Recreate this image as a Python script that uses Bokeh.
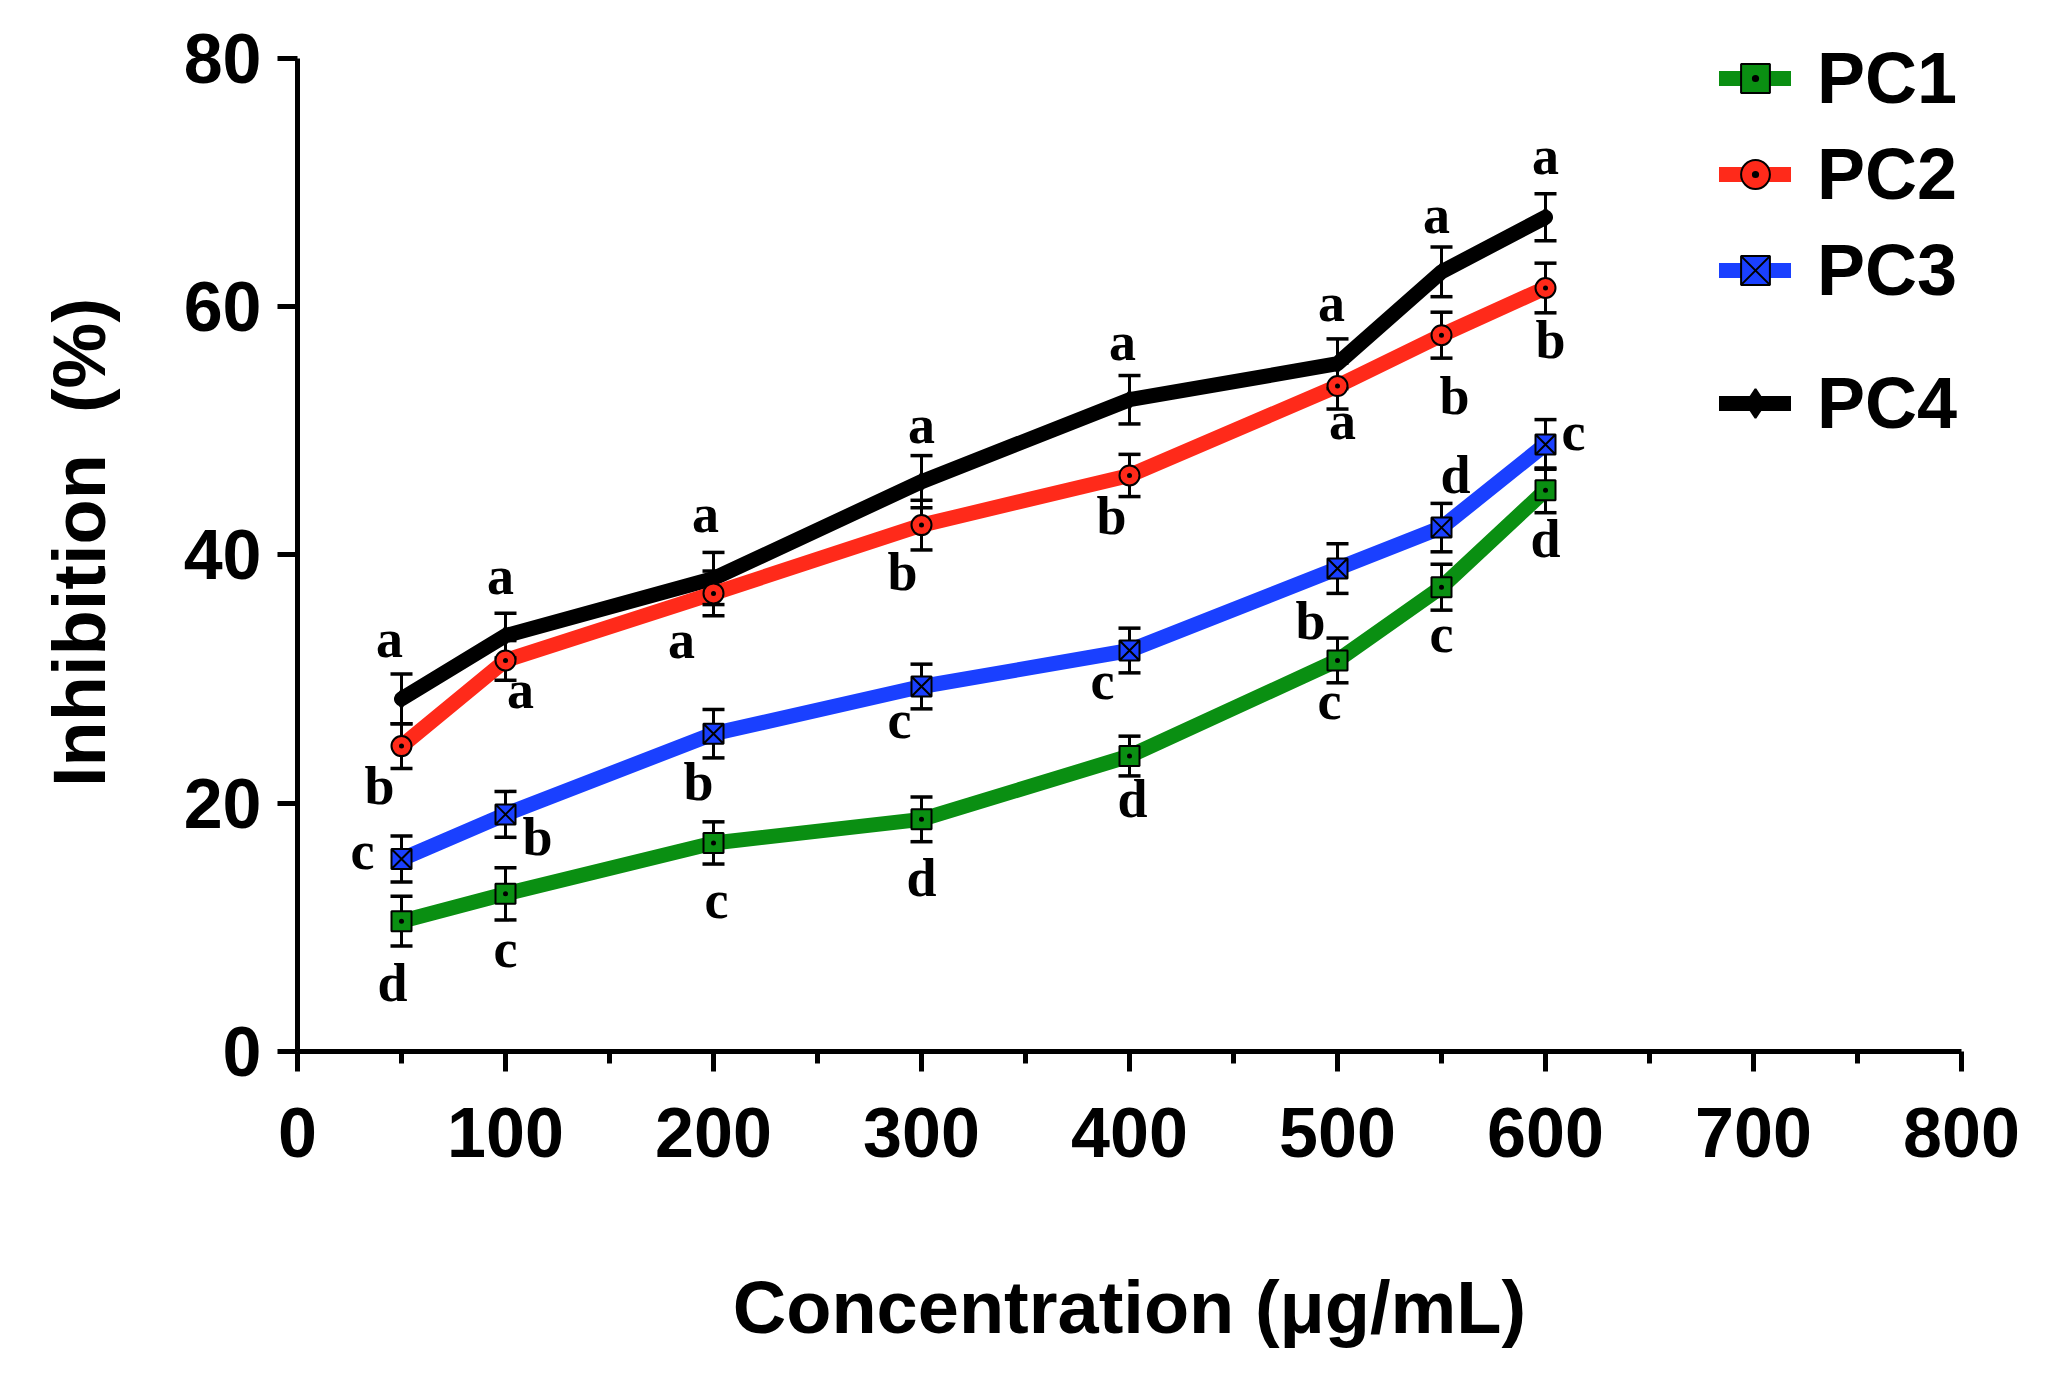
from bokeh.plotting import figure
from bokeh.models import ColumnDataSource, FixedTicker, Legend, LegendItem
from bokeh.core.properties import value
from bokeh.embed import file_html
from bokeh.resources import INLINE

# ---- data ----
conc = [50, 100, 200, 300, 400, 500, 550, 600]

pc1 = [10.5, 12.7, 16.8, 18.7, 23.8, 31.5, 37.4, 45.2]
pc1_err = [2.0, 2.1, 1.7, 1.8, 1.6, 1.8, 1.85, 1.8]
pc1_letters = ["d", "c", "c", "d", "d", "c", "c", "d"]

pc2 = [24.6, 31.5, 36.9, 42.4, 46.4, 53.6, 57.7, 61.5]
pc2_err = [1.8, 1.6, 1.8, 2.0, 1.7, 1.85, 1.85, 2.0]
pc2_letters = ["b", "a", "a", "b", "b", "a", "b", "b"]

pc3 = [15.5, 19.1, 25.6, 29.4, 32.3, 38.9, 42.2, 48.9]
pc3_err = [1.85, 1.85, 1.95, 1.8, 1.8, 2.0, 1.95, 2.0]
pc3_letters = ["c", "b", "b", "c", "c", "b", "d", "c"]

pc4 = [28.4, 33.5, 38.1, 45.9, 52.5, 55.4, 62.8, 67.2]
pc4_err = [2.0, 1.8, 2.1, 2.1, 1.95, 2.0, 2.0, 1.9]
pc4_letters = ["a", "a", "a", "a", "a", "a", "a", "a"]

x_ticks = [0, 100, 200, 300, 400, 500, 600, 700, 800]
x_minor = [50, 150, 250, 350, 450, 550, 650, 750]
y_ticks = [0, 20, 40, 60, 80]

# ---- styles (letter offsets in screen px) ----
styles = {
    "PC1": dict(color="#0a8f12", marker="square_dot", msize=20,
                dx=[-9, 0, 3, 0, 3, -8, 0, 0], dy=[62, 55, 57, 59, 43, 41, 47, 49]),
    "PC2": dict(color="#ff2a1a", marker="circle_dot", msize=20,
                dx=[-22, 15, -32, -19, -18, 5, 13, 5], dy=[40, 30, 47, 47, 41, 35, 61, 52]),
    "PC3": dict(color="#1a40ff", marker="square_x", msize=20,
                dx=[-39, 32, -15, -22, -27, -27, 14, 28], dy=[-8, 23, 48, 33, 30, 52, -53, -12]),
    "PC4": dict(color="#000000", marker="diamond", msize=18,
                dx=[-12, -5, -8, 0, -7, -6, -5, 0], dy=[-60, -60, -65, -57, -58, -61, -57, -61]),
}
series = {
    "PC1": (pc1, pc1_err, pc1_letters),
    "PC2": (pc2, pc2_err, pc2_letters),
    "PC3": (pc3, pc3_err, pc3_letters),
    "PC4": (pc4, pc4_err, pc4_letters),
}

p = figure(width=2035, height=1365, x_range=(0, 800), y_range=(0, 82),
           output_backend="svg", toolbar_location=None,
           min_border_left=297, min_border_right=74, min_border_top=33, min_border_bottom=314)
p.xgrid.visible = False
p.ygrid.visible = False
p.outline_line_color = None
p.background_fill_color = "white"

sources = {}
for name, (vals, errs, letters) in series.items():
    st = styles[name]
    sources[name] = ColumnDataSource(dict(
        x=conc, y=vals,
        upper=[v + e for v, e in zip(vals, errs)],
        lower=[v - e for v, e in zip(vals, errs)],
        letter=letters, dx=st["dx"], dy=st["dy"]))

order = ["PC4", "PC1", "PC3", "PC2"]

line_r = {}
for name in order:
    st = styles[name]
    line_r[name] = p.line("x", "y", source=sources[name], line_color=st["color"],
                          line_width=15, line_join="round", line_cap="round")

for name in order:
    src = sources[name]
    p.segment(x0="x", y0="lower", x1="x", y1="upper", source=src, line_color="black", line_width=3)
    p.scatter("x", "upper", source=src, marker="dash", size=22, line_color="black", line_width=3.5)
    p.scatter("x", "lower", source=src, marker="dash", size=22, line_color="black", line_width=3.5)

mark_r = {}
for name in order:
    st = styles[name]
    mark_r[name] = p.scatter("x", "y", source=sources[name], marker=st["marker"], size=st["msize"],
                             fill_color=st["color"], line_color="black", line_width=2)

for name in order:
    p.text("x", "y", text="letter", source=sources[name], x_offset="dx", y_offset="dy",
           text_font=value("Liberation Serif"), text_font_style="bold", text_font_size="54px",
           text_align="center", text_baseline="middle", text_color="black")

# axes
for ax in (p.xaxis[0], p.yaxis[0]):
    ax.axis_line_width = 5
    ax.axis_line_color = "black"
    ax.major_tick_line_width = 5
    ax.major_tick_out = 20
    ax.major_tick_in = 0
    ax.minor_tick_line_width = 5
    ax.minor_tick_out = 12
    ax.minor_tick_in = 0
    ax.major_label_text_font = "Liberation Sans"
    ax.major_label_text_font_style = "bold"
    ax.major_label_text_font_size = "70px"
    ax.major_label_text_color = "black"
    ax.axis_label_text_font = "Liberation Sans"
    ax.axis_label_text_font_style = "bold"
    ax.axis_label_text_font_size = "74px"
    ax.axis_label_text_color = "black"

p.yaxis.bounds = (0, 80)
p.xaxis.ticker = FixedTicker(ticks=x_ticks, minor_ticks=x_minor)
p.yaxis.ticker = FixedTicker(ticks=y_ticks, minor_ticks=[])
p.xaxis.major_label_standoff = 36
p.yaxis.major_label_standoff = 16
p.xaxis.axis_label = "Concentration (\u03bcg/mL)"
p.yaxis.axis_label = "Inhibition\u00a0\u00a0(%)"
p.xaxis.axis_label_standoff = 106
p.yaxis.axis_label_standoff = 60

def make_legend(names, loc):
    items = [LegendItem(label=n, renderers=[line_r[n], mark_r[n]]) for n in names]
    lg = Legend(items=items, location=loc, orientation="vertical",
                glyph_width=72, glyph_height=84, label_height=84, label_standoff=26,
                spacing=12, padding=0, margin=0,
                border_line_color=None, background_fill_alpha=0,
                label_text_font="Liberation Sans", label_text_font_style="bold",
                label_text_font_size="72px", label_text_color="black")
    return lg

p.add_layout(make_legend(["PC1", "PC2", "PC3"], (1422, 739)))
p.add_layout(make_legend(["PC4"], (1422, 606)))

open("out.html", "w").write(file_html(p, INLINE))
